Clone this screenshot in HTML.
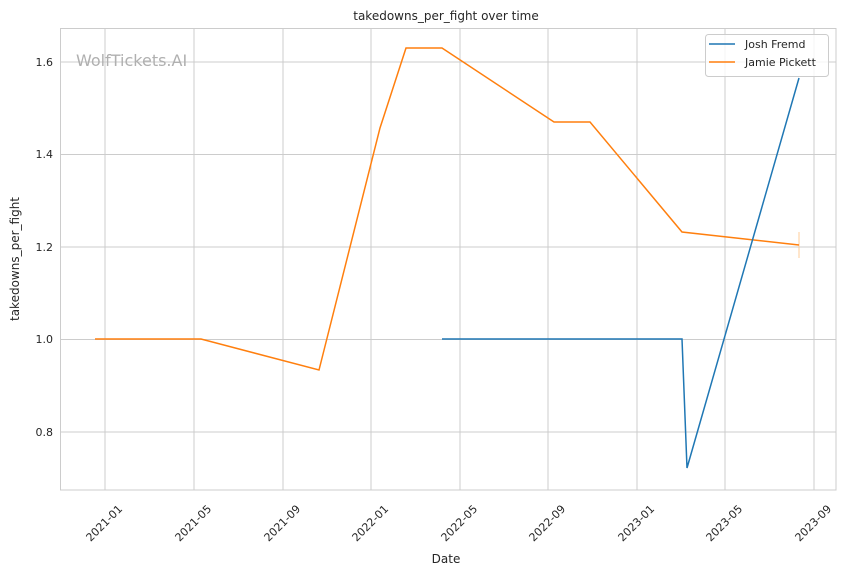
<!DOCTYPE html>
<html><head><meta charset="utf-8"><style>body{margin:0;background:#fff}svg{display:block}text{font-family:"DejaVu Sans","Liberation Sans",sans-serif;fill:#262626}</style></head>
<body>
<svg width="847" height="575" viewBox="0 0 847 575" xmlns="http://www.w3.org/2000/svg">
<rect width="847" height="575" fill="#fff"/>
<g stroke="#cccccc" stroke-width="1">
<line x1="105" y1="28" x2="105" y2="490"/><line x1="194" y1="28" x2="194" y2="490"/>
<line x1="283" y1="28" x2="283" y2="490"/><line x1="371" y1="28" x2="371" y2="490"/>
<line x1="460" y1="28" x2="460" y2="490"/><line x1="548" y1="28" x2="548" y2="490"/>
<line x1="637" y1="28" x2="637" y2="490"/><line x1="725" y1="28" x2="725" y2="490"/>
<line x1="814" y1="28" x2="814" y2="490"/>
<line x1="60" y1="62" x2="836" y2="62"/><line x1="60" y1="154.5" x2="836" y2="154.5"/>
<line x1="60" y1="247" x2="836" y2="247"/><line x1="60" y1="339.5" x2="836" y2="339.5"/>
<line x1="60" y1="432" x2="836" y2="432"/>
<rect x="60.5" y="28.5" width="775.5" height="461.5" fill="none"/>
</g>
<text x="76" y="66" font-size="16" style="fill:#b0b0b0">WolfTickets.AI</text>
<g font-size="11" text-anchor="end">
<text x="53" y="66">1.6</text><text x="53" y="158">1.4</text><text x="53" y="251">1.2</text>
<text x="53" y="343">1.0</text><text x="53" y="436">0.8</text>
</g>
<g font-size="11" text-anchor="middle">
<text transform="translate(104,523) rotate(-45)" dy="4">2021-01</text>
<text transform="translate(193,523) rotate(-45)" dy="4">2021-05</text>
<text transform="translate(282,523) rotate(-45)" dy="4">2021-09</text>
<text transform="translate(370,523) rotate(-45)" dy="4">2022-01</text>
<text transform="translate(459,523) rotate(-45)" dy="4">2022-05</text>
<text transform="translate(547,523) rotate(-45)" dy="4">2022-09</text>
<text transform="translate(636,523) rotate(-45)" dy="4">2023-01</text>
<text transform="translate(724,523) rotate(-45)" dy="4">2023-05</text>
<text transform="translate(813,523) rotate(-45)" dy="4">2023-09</text>
</g>
<text x="446" y="563" font-size="12" text-anchor="middle">Date</text>
<text transform="translate(19,259) rotate(-90)" font-size="12" text-anchor="middle">takedowns_per_fight</text>
<text x="446" y="20" font-size="12" text-anchor="middle">takedowns_per_fight over time</text>
<line x1="799" y1="232" x2="799" y2="258" stroke="#ffcc99" stroke-width="1"/>
<polyline fill="none" stroke="#ff7f0e" stroke-width="1.5" points="95,339 201,339 319,370 380,128 406,48 442,48 554,122 590,122 682,232 799,245"/>
<polyline fill="none" stroke="#1f77b4" stroke-width="1.5" points="442,339 682,339 687,468 799,78"/>
<rect x="705.5" y="34.5" width="123" height="42" rx="3" fill="#fff" fill-opacity="0.8" stroke="#cccccc"/>
<line x1="709" y1="44" x2="735" y2="44" stroke="#1f77b4" stroke-width="1.5"/>
<line x1="709" y1="62" x2="735" y2="62" stroke="#ff7f0e" stroke-width="1.5"/>
<text x="745" y="48" font-size="11">Josh Fremd</text>
<text x="745" y="66" font-size="11">Jamie Pickett</text>
</svg>
</body></html>
